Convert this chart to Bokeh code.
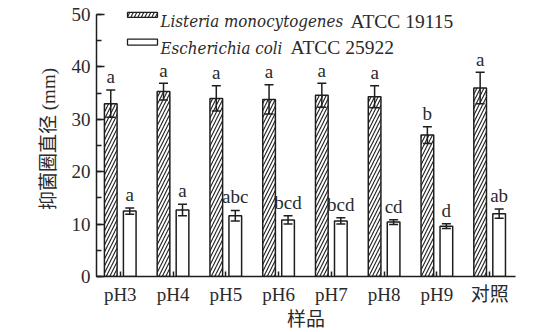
from bokeh.plotting import figure
from bokeh.models import (ColumnDataSource, Range1d, FixedTicker, SingleIntervalTicker,
                          Whisker, TeeHead, Label, BoxAnnotation)
from bokeh.core.properties import value
from bokeh.embed import file_html
from bokeh.resources import INLINE

# ---- data ----
categories = ["pH3", "pH4", "pH5", "pH6", "pH7", "pH8", "pH9", "对照"]
listeria_mean = [33.0, 35.3, 34.0, 33.8, 34.6, 34.3, 27.0, 36.0]
listeria_err = [2.6, 1.6, 2.4, 2.8, 2.3, 2.1, 1.6, 3.0]
listeria_letters = ["a", "a", "a", "a", "a", "a", "b", "a"]
ecoli_mean = [12.5, 12.7, 11.6, 10.8, 10.6, 10.4, 9.6, 12.0]
ecoli_err = [0.6, 1.1, 1.0, 0.8, 0.6, 0.45, 0.45, 0.9]
ecoli_letters = ["a", "a", "abc", "bcd", "bcd", "cd", "d", "ab"]
y_ticks_interval = 10
legend_names = [("Listeria monocytogenes", "ATCC 19115"),
                ("Escherichia coli", "ATCC 25922")]

FONT = "Liberation Serif, Noto Sans CJK SC"
IFONT = "DejaVu Serif Condensed"
INK = "#1e1e1e"
TXT = "#2a2a2a"

W, H = 554, 332
LEFT, RIGHT, TOP, BOTTOM = 96, 39, 1, 53
XR = (-0.45, 7.49)
YR = (0, 52.5)

p = figure(width=W, height=H, output_backend="svg", toolbar_location=None,
           x_range=Range1d(*XR), y_range=Range1d(*YR),
           min_border_left=LEFT, min_border_right=RIGHT,
           min_border_top=TOP, min_border_bottom=BOTTOM)
p.outline_line_color = None
p.xgrid.visible = False
p.ygrid.visible = False
p.background_fill_color = "white"
p.border_fill_color = "white"

fw = W - LEFT - RIGHT
fh = H - TOP - BOTTOM
def px2x(px):
    return XR[0] + (px - LEFT) / fw * (XR[1] - XR[0])
def py2y(py):
    return YR[0] + (H - BOTTOM - py) / fh * (YR[1] - YR[0])

idx = list(range(len(categories)))
OFF = 0.18
BW = 0.24
HATCH = dict(hatch_pattern="/", hatch_color=INK, hatch_scale=7, hatch_weight=1.1)

src_l = ColumnDataSource(dict(
    x=[i - OFF for i in idx], top=listeria_mean,
    upper=[m + e for m, e in zip(listeria_mean, listeria_err)],
    lower=[m - e for m, e in zip(listeria_mean, listeria_err)],
    ly=[m + e + 0.5 for m, e in zip(listeria_mean, listeria_err)],
    letters=listeria_letters))
src_e = ColumnDataSource(dict(
    x=[i + OFF for i in idx], top=ecoli_mean,
    upper=[m + e for m, e in zip(ecoli_mean, ecoli_err)],
    lower=[m - e for m, e in zip(ecoli_mean, ecoli_err)],
    ly=[m + e + 0.6 for m, e in zip(ecoli_mean, ecoli_err)],
    letters=ecoli_letters))

p.vbar(x="x", top="top", bottom=0, width=BW, source=src_l,
       fill_color="white", line_color=INK, line_width=1.5, **HATCH)
p.vbar(x="x", top="top", bottom=0, width=BW, source=src_e,
       fill_color="white", line_color=INK, line_width=1.5)

for src in (src_l, src_e):
    w = Whisker(base="x", upper="upper", lower="lower", source=src,
                line_color=INK, line_width=1.5, level="annotation",
                upper_head=TeeHead(size=9, line_color=INK, line_width=1.5),
                lower_head=TeeHead(size=9, line_color=INK, line_width=1.5))
    p.add_layout(w)
    p.text(x="x", y="ly", text="letters", source=src, text_align="center",
           text_baseline="bottom", text_font=value(FONT),
           text_font_size="19px", text_color=TXT)

xa = p.xaxis[0]
xa.ticker = FixedTicker(ticks=idx, minor_ticks=[])
xa.major_label_overrides = {i: c for i, c in zip(idx, categories)}
xa.major_tick_in = 5
xa.major_tick_out = 0
xa.minor_tick_in = 0
xa.minor_tick_out = 0
xa.major_label_standoff = 7
xa.axis_label = "样品"
xa.axis_label_standoff = 1
xa.axis_label_text_font_style = "normal"

ya = p.yaxis[0]
ya.ticker = SingleIntervalTicker(interval=y_ticks_interval, num_minor_ticks=2)
ya.bounds = (0, 50)
ya.major_tick_in = 8
ya.major_tick_out = 0
ya.minor_tick_in = 5
ya.minor_tick_out = 0
ya.major_label_standoff = 6
ya.axis_label = "抑菌圈直径 (mm)"
ya.axis_label_standoff = 10
ya.axis_label_text_font_style = "normal"

for ax in (xa, ya):
    ax.axis_line_color = INK
    ax.axis_line_width = 1.5
    ax.major_tick_line_color = INK
    ax.major_tick_line_width = 1.5
    ax.minor_tick_line_color = INK
    ax.minor_tick_line_width = 1.5
    ax.major_label_text_font = FONT
    ax.major_label_text_font_size = "19px"
    ax.major_label_text_color = TXT
    ax.axis_label_text_font = FONT
    ax.axis_label_text_font_size = "19px"
    ax.axis_label_text_color = TXT

# legend (manual, to allow mixed italic/regular text)
rows = [(12, 17, 21, True), (39, 45, 48, False)]
split_px = [350, 290]
for (t, b, base, hatched), (it, rg), sp in zip(rows, legend_names, split_px):
    kw = HATCH if hatched else {}
    p.add_layout(BoxAnnotation(left=px2x(127), right=px2x(157), top=py2y(t), bottom=py2y(b),
                               fill_color="white", fill_alpha=1.0, line_color=INK,
                               line_alpha=1.0, line_width=1.3, level="annotation", **kw))
    p.add_layout(Label(x=px2x(160), y=py2y(base), text=it, text_font=IFONT,
                       text_font_size="16.8px", text_font_style="italic",
                       text_color=TXT, text_baseline="alphabetic"))
    p.add_layout(Label(x=px2x(sp), y=py2y(base), text=rg, text_font=FONT,
                       text_font_size="19.5px", text_color=TXT, text_baseline="alphabetic"))

open("out.html", "w").write(file_html(p, INLINE))
